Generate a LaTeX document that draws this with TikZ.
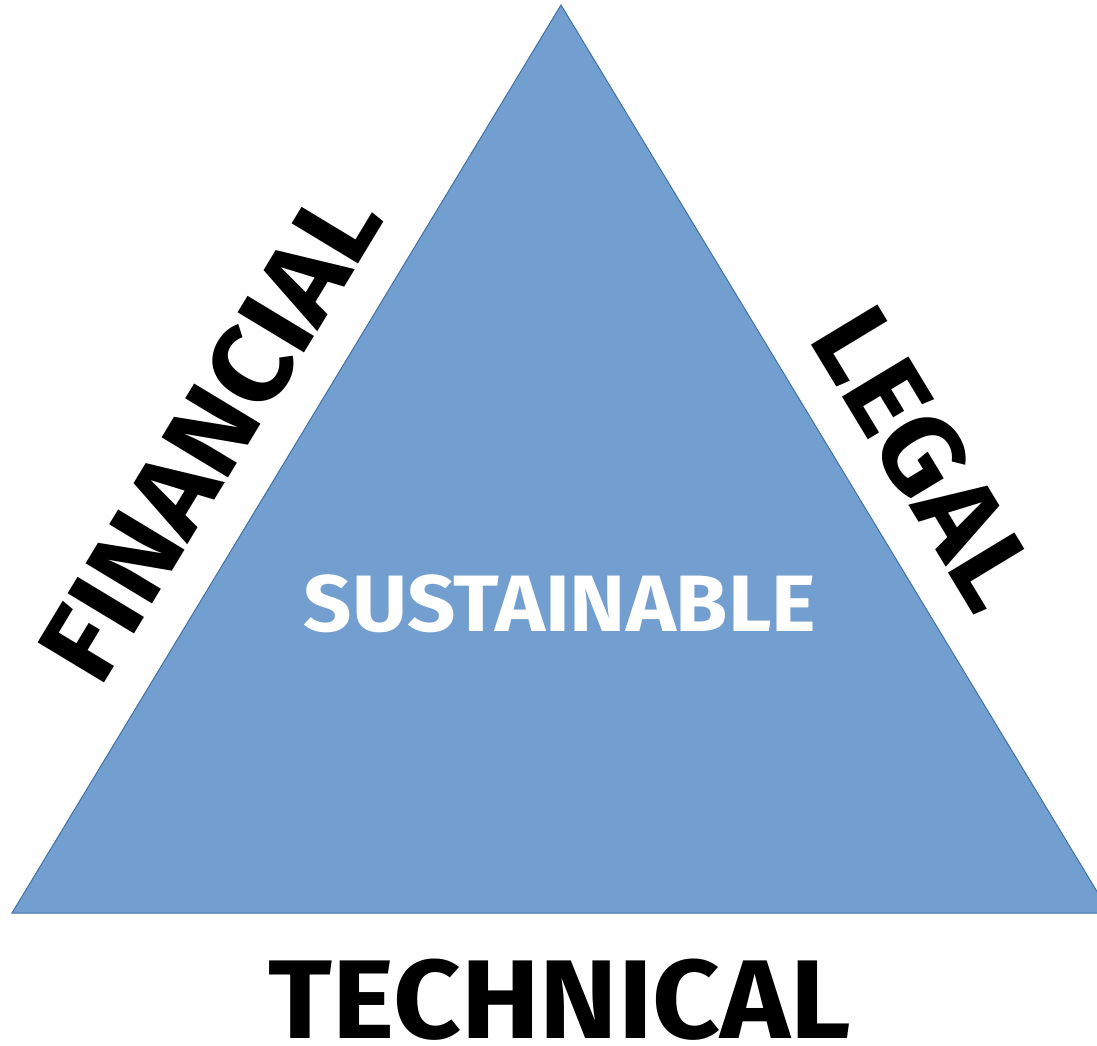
\documentclass[tikz,border=0pt]{standalone}
\usepackage{fontspec}
\setmainfont{Fira Sans}
\definecolor{trifill}{RGB}{114,159,207}
\definecolor{triedge}{RGB}{65,113,170}
\begin{document}
\begin{tikzpicture}[x=1pt,y=-1pt,
  big/.style={font=\bfseries\fontsize{112}{112}\selectfont, inner sep=0pt, text=black},
  mid/.style={font=\bfseries\fontsize{80}{80}\selectfont, inner sep=0pt, text=white}]
\useasboundingbox (0,0) rectangle (1097,1045);
\coordinate (A) at (561,5);
\coordinate (B) at (12,913);
\coordinate (C) at (1110,913);
\begin{scope}
\clip (0,0) rectangle (1097,1045);
\draw[fill=trifill, draw=triedge, line width=1pt] (A) -- (B) -- (C) -- cycle;
\end{scope}
\node[mid, xscale=1.058] (sus) at (560,604) {SUSTAINABLE};
\node[big, xscale=1.055] (tech) at (560,1000) {TECHNICAL};
\node[big, rotate=58.85, xscale=1.052] (fin) at (210,434) {FINANCIAL};
\node[big, rotate=-58.85, xscale=1.05] (leg) at (925,458) {LEGAL};
\end{tikzpicture}
\end{document}
